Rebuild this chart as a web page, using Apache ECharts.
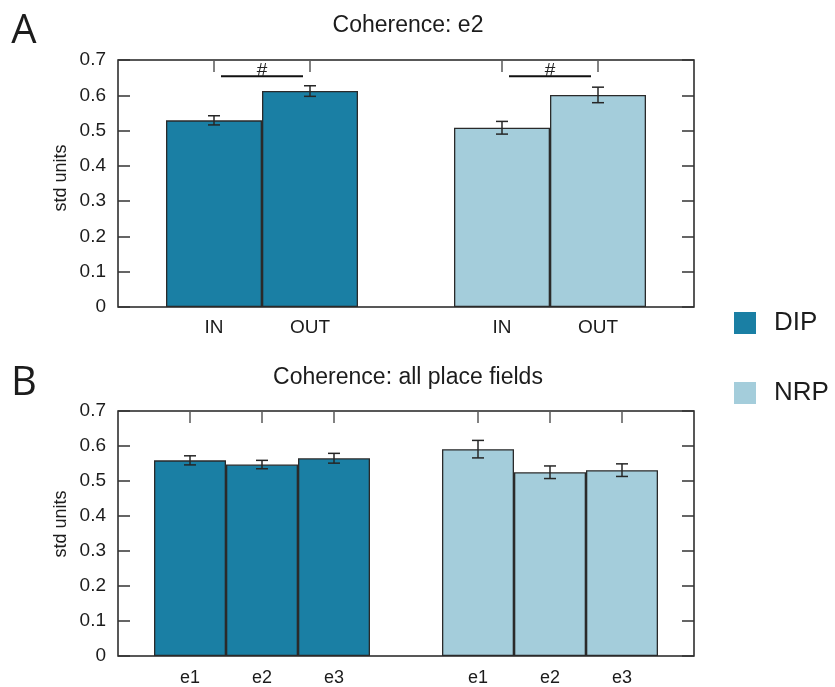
<!DOCTYPE html>
<html>
<head>
<meta charset="utf-8">
<title>Coherence</title>
<script src="https://cdn.jsdelivr.net/npm/echarts@6/dist/echarts.min.js"></script>
<style>
  html, body { margin: 0; padding: 0; background: #ffffff; }
  #chart { width: 835px; height: 687px; }
</style>
</head>
<body>
<div id="chart"></div>
<script>
// ---- data -------------------------------------------------------------
const groupNames = ['DIP', 'NRP'];

// Panel A: coherence in epoch e2, inside vs outside
const e2Categories = ['IN', 'OUT'];
const dipE2Mean = [0.529, 0.612];
const dipE2Err = [0.013, 0.015];
const nrpE2Mean = [0.508, 0.601];
const nrpE2Err = [0.018, 0.022];
// significance brackets (one per group, IN vs OUT)
const e2SigLevel = [0.654, 0.654];
const e2SigMark = ['#', '#'];

// Panel B: coherence of all place fields per epoch
const epochCategories = ['e1', 'e2', 'e3'];
const dipAllMean = [0.559, 0.547, 0.565];
const dipAllErr = [0.013, 0.012, 0.014];
const nrpAllMean = [0.591, 0.525, 0.531];
const nrpAllErr = [0.025, 0.018, 0.018];

// y axis range shared by both panels
const yMin = 0, yMax = 0.7, yStep = 0.1;

// ---- styling ----------------------------------------------------------
const dipColor = '#1a7fa4';
const nrpColor = '#a4cddb';
const textColor = '#1c1c1c';
const frameColor = '#222222';
const sansFont = '"Liberation Sans", Arial, sans-serif';

// ---- helpers ----------------------------------------------------------
// Two groups on one category axis: blank slot, group 1, blank slot, group 2, blank slot.
function axisCategories(cats) {
  return [''].concat(cats, [''], cats, ['']);
}
function groupIndex(cats, groupNo, i) {
  return 1 + groupNo * (cats.length + 1) + i;
}
function padSeries(cats, groupNo, values) {
  const out = axisCategories(cats).map(() => '-');
  values.forEach((v, i) => { out[groupIndex(cats, groupNo, i)] = v; });
  return out;
}
function errorData(cats, means, errs) {
  const rows = [];
  means.forEach((group, g) => {
    group.forEach((m, i) => rows.push([groupIndex(cats, g, i), m, errs[g][i]]));
  });
  return rows;
}

function renderErrorBar(params, api) {
  const x = api.value(0), m = api.value(1), e = api.value(2);
  const lo = api.coord([x, m - e]);
  const hi = api.coord([x, m + e]);
  const cap = 6;
  const style = { stroke: '#262626', lineWidth: 1.5 };
  return {
    type: 'group',
    children: [
      { type: 'line', shape: { x1: lo[0], y1: lo[1], x2: hi[0], y2: hi[1] }, style: style },
      { type: 'line', shape: { x1: lo[0] - cap, y1: lo[1], x2: lo[0] + cap, y2: lo[1] }, style: style },
      { type: 'line', shape: { x1: hi[0] - cap, y1: hi[1], x2: hi[0] + cap, y2: hi[1] }, style: style }
    ]
  };
}

function renderSigBracket(params, api) {
  const a = api.coord([api.value(0), api.value(2)]);
  const b = api.coord([api.value(1), api.value(2)]);
  const inset = 7;
  const mark = e2SigMark[params.dataIndex];
  return {
    type: 'group',
    children: [
      { type: 'line', shape: { x1: a[0] + inset, y1: a[1], x2: b[0] - inset, y2: b[1] },
        style: { stroke: '#111111', lineWidth: 2 } },
      { type: 'text', style: {
          text: mark, x: (a[0] + b[0]) / 2, y: a[1] + 4,
          align: 'center', verticalAlign: 'bottom',
          textAlign: 'center', textVerticalAlign: 'bottom',
          font: '19px ' + sansFont, fill: '#222222' } }
    ]
  };
}

// ---- axes -------------------------------------------------------------
const gridBox = [
  { left: 118, top: 60, width: 576, height: 247 },
  { left: 118, top: 411, width: 576, height: 247 }
];
const panelCats = [e2Categories, epochCategories];
const xLabelStyle = [
  { fontSize: 19, margin: 11 },
  { fontSize: 18, margin: 13 }
];

const grids = gridBox.map(g => Object.assign({
  show: true, borderColor: frameColor, borderWidth: 1.5, backgroundColor: 'transparent'
}, g));

const xAxes = [];
const yAxes = [];
panelCats.forEach((cats, p) => {
  const data = axisCategories(cats);
  xAxes.push({
    type: 'category', gridIndex: p, position: 'bottom', data: data, boundaryGap: false,
    axisLine: { show: false, onZero: false }, axisTick: { show: false }, splitLine: { show: false },
    axisLabel: { interval: 0, color: textColor, fontFamily: sansFont,
                 fontSize: xLabelStyle[p].fontSize, margin: xLabelStyle[p].margin }
  });
  xAxes.push({
    type: 'category', gridIndex: p, position: 'top', data: data, boundaryGap: false,
    axisLine: { show: false, onZero: false }, axisLabel: { show: false }, splitLine: { show: false },
    axisTick: { show: true, inside: true, length: 12,
                interval: (idx, val) => val !== '',
                lineStyle: { color: '#5a5a5a', width: 1.5 } }
  });
  yAxes.push({
    type: 'value', gridIndex: p, position: 'left', min: yMin, max: yMax, interval: yStep,
    axisLine: { show: false, onZero: false }, splitLine: { show: false },
    axisTick: { show: true, inside: true, length: 12, lineStyle: { color: '#333333', width: 1.5 } },
    axisLabel: { color: textColor, fontFamily: sansFont, fontSize: 19, margin: 12 }
  });
  yAxes.push({
    type: 'value', gridIndex: p, position: 'right', min: yMin, max: yMax, interval: yStep,
    axisLine: { show: false, onZero: false }, splitLine: { show: false }, axisLabel: { show: false },
    axisTick: { show: true, inside: true, length: 12, lineStyle: { color: '#333333', width: 1.5 } }
  });
});

// ---- series -----------------------------------------------------------
const panelMeans = [[dipE2Mean, nrpE2Mean], [dipAllMean, nrpAllMean]];
const panelErrs = [[dipE2Err, nrpE2Err], [dipAllErr, nrpAllErr]];
const groupColors = [dipColor, nrpColor];

const series = [];
panelCats.forEach((cats, p) => {
  groupNames.forEach((name, g) => {
    series.push({
      type: 'bar', name: name, xAxisIndex: p * 2, yAxisIndex: p * 2,
      data: padSeries(cats, g, panelMeans[p][g]),
      barGap: '-100%', barCategoryGap: '0%',
      itemStyle: { color: groupColors[g], borderColor: '#2a2a2a', borderWidth: 1.3 },
      emphasis: { disabled: true }, silent: true
    });
  });
  series.push({
    type: 'custom', name: 'sem', xAxisIndex: p * 2, yAxisIndex: p * 2,
    data: errorData(cats, panelMeans[p], panelErrs[p]),
    encode: { x: 0, y: 1 },
    renderItem: renderErrorBar, z: 5, silent: true
  });
});
series.push({
  type: 'custom', name: 'sig', xAxisIndex: 0, yAxisIndex: 0,
  data: e2SigLevel.map((lvl, g) => [groupIndex(e2Categories, g, 0), groupIndex(e2Categories, g, 1), lvl]),
  encode: { x: [0, 1], y: 2 },
  renderItem: renderSigBracket, z: 6, silent: true
});

// ---- text -------------------------------------------------------------
function label(text, x, y, font, extra) {
  return Object.assign({
    type: 'text', x: x, y: y, silent: true,
    style: { text: text, font: font, fill: textColor,
             align: 'center', verticalAlign: 'middle',
             textAlign: 'center', textVerticalAlign: 'middle' }
  }, extra || {});
}
const graphics = [
  label('A', 24, 32, '40px "Open Sans", sans-serif'),
  label('B', 24, 384, '40px "Open Sans", sans-serif'),
  label('Coherence: e2', 408, 26, '23px ' + sansFont),
  label('Coherence: all place fields', 408, 378, '23px ' + sansFont),
  label('std units', 61, 178, '18px ' + sansFont, { rotation: Math.PI / 2 }),
  label('std units', 61, 524, '18px ' + sansFont, { rotation: Math.PI / 2 })
];

const option = {
  animation: false,
  backgroundColor: '#ffffff',
  grid: grids,
  xAxis: xAxes,
  yAxis: yAxes,
  legend: {
    data: groupNames, orient: 'vertical', left: 734, top: 310, padding: 0,
    icon: 'rect', itemWidth: 22, itemHeight: 22, itemGap: 44, selectedMode: false,
    itemStyle: { borderWidth: 0 },
    textStyle: { fontFamily: sansFont, fontSize: 26, lineHeight: 26, color: textColor,
                 padding: [0, 0, 0, 13] }
  },
  graphic: graphics,
  series: series
};

const chart = echarts.init(document.getElementById('chart'), null, { renderer: 'canvas' });
chart.setOption(option);
</script>
</body>
</html>
